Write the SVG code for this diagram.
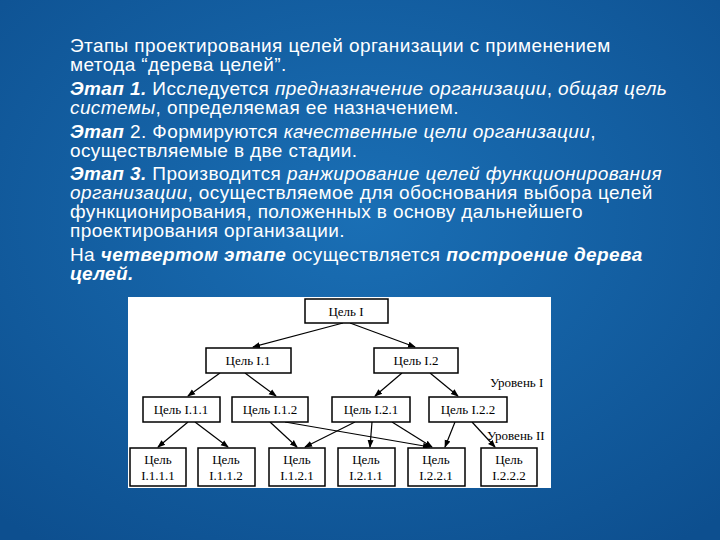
<svg xmlns="http://www.w3.org/2000/svg" width="720" height="540" viewBox="0 0 720 540">
<defs>
<radialGradient id="bg" cx="0.5" cy="0.4" r="0.75"><stop offset="0" stop-color="#1a6fb5"/><stop offset="1" stop-color="#0d4f8f"/></radialGradient>
<marker id="ah" markerWidth="8" markerHeight="8" refX="7" refY="4" orient="auto" markerUnits="userSpaceOnUse"><path d="M0,1 L8,4 L0,7 Z" fill="#000"/></marker>
<style>
.t{font-family:"Liberation Sans",Arial,sans-serif;font-size:19px;letter-spacing:0.4px;fill:#fff}
.b{font-weight:bold}.i{font-style:italic}
.n rect{fill:#fff;stroke:#000;stroke-width:1.5}
.n text,.lv{font-family:"Liberation Serif","Times New Roman",serif;font-size:13px;fill:#000;text-anchor:middle}
.lv{text-anchor:start}
#conn line{stroke:#000;stroke-width:1.2;marker-end:url(#ah)}
</style>
</defs>
<rect width="720" height="540" fill="url(#bg)"/>
<g class="t">
<text x="70" y="52">Этапы проектирования целей организации с применением</text>
<text x="70" y="71">метода “дерева целей”.</text>
<text x="70" y="95"><tspan class="b i">Этап 1.</tspan> Исследуется <tspan class="i">предназначение организации</tspan>, <tspan class="i">общая цель</tspan></text>
<text x="70" y="114"><tspan class="i">системы</tspan>, определяемая ее назначением.</text>
<text x="70" y="138"><tspan class="b i">Этап</tspan> 2. Формируются <tspan class="i">качественные цели организации</tspan>,</text>
<text x="70" y="157">осуществляемые в две стадии.</text>
<text x="70" y="180"><tspan class="b i">Этап 3.</tspan> Производится <tspan class="i">ранжирование целей функционирования</tspan></text>
<text x="70" y="199"><tspan class="i">организации</tspan>, осуществляемое для обоснования выбора целей</text>
<text x="70" y="218">функционирования, положенных в основу дальнейшего</text>
<text x="70" y="237">проектирования организации.</text>
<text x="70" y="261"> На <tspan class="b i">четвертом этапе</tspan> осуществляется <tspan class="b i">построение дерева</tspan></text>
<text x="70" y="280" class="b i">целей.</text>
</g>
<rect x="128" y="297" width="423" height="191" fill="#fff"/>
<g id="conn">
<line x1="343" y1="323" x2="253" y2="347"/>
<line x1="350" y1="323" x2="415" y2="347"/>
<line x1="220" y1="373" x2="188" y2="396"/>
<line x1="245" y1="373" x2="276" y2="396"/>
<line x1="402" y1="373" x2="375" y2="396"/>
<line x1="430" y1="373" x2="458" y2="396"/>
<line x1="188" y1="422" x2="158" y2="447"/>
<line x1="195" y1="422" x2="228" y2="447"/>
<line x1="270" y1="422" x2="297" y2="447"/>
<line x1="285" y1="422" x2="430" y2="447"/>
<line x1="355" y1="422" x2="305" y2="447"/>
<line x1="372" y1="422" x2="370" y2="447"/>
<line x1="392" y1="422" x2="432" y2="447"/>
<line x1="455" y1="422" x2="445" y2="447"/>
<line x1="472" y1="422" x2="495" y2="447"/>
</g>
<g id="g1" class="n"><rect x="305" y="299" width="83" height="24"/><text x="346" y="316">Цель I</text></g>
<g id="g11" class="n"><rect x="206" y="348" width="85" height="25"/><text x="248" y="365">Цель I.1</text></g>
<g id="g12" class="n"><rect x="374" y="348" width="84" height="25"/><text x="416" y="365">Цель I.2</text></g>
<g id="g111" class="n"><rect x="143" y="397" width="77" height="25"/><text x="181" y="414">Цель I.1.1</text></g>
<g id="g112" class="n"><rect x="232" y="397" width="76" height="25"/><text x="270" y="414">Цель I.1.2</text></g>
<g id="g121" class="n"><rect x="332" y="397" width="78" height="25"/><text x="371" y="414">Цель I.2.1</text></g>
<g id="g122" class="n"><rect x="429" y="397" width="78" height="25"/><text x="468" y="414">Цель I.2.2</text></g>
<g id="g1111" class="n"><rect x="130" y="448" width="56" height="38"/><text x="158" y="464">Цель</text><text x="158" y="480">I.1.1.1</text></g>
<g id="g1112" class="n"><rect x="198" y="448" width="57" height="38"/><text x="226" y="464">Цель</text><text x="226" y="480">I.1.1.2</text></g>
<g id="g1121" class="n"><rect x="269" y="448" width="56" height="38"/><text x="297" y="464">Цель</text><text x="297" y="480">I.1.2.1</text></g>
<g id="g1211" class="n"><rect x="338" y="448" width="57" height="38"/><text x="366" y="464">Цель</text><text x="366" y="480">I.2.1.1</text></g>
<g id="g1221" class="n"><rect x="408" y="448" width="57" height="38"/><text x="436" y="464">Цель</text><text x="436" y="480">I.2.2.1</text></g>
<g id="g1222" class="n"><rect x="481" y="448" width="56" height="38"/><text x="509" y="464">Цель</text><text x="509" y="480">I.2.2.2</text></g>
<text class="lv" x="490" y="387">Уровень I</text>
<text class="lv" x="487" y="440">Уровень II</text>
</svg>
